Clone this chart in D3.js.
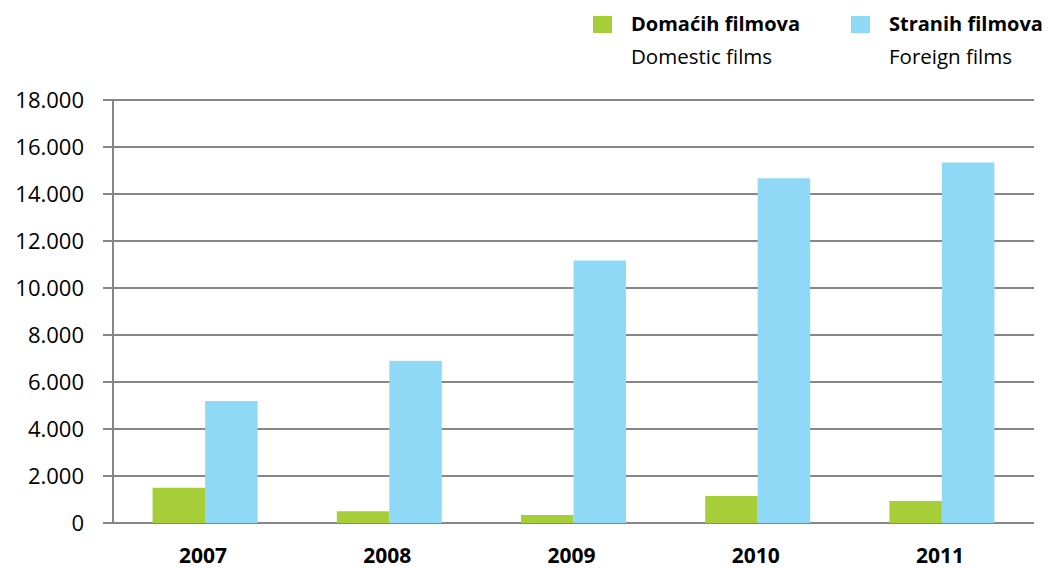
<!DOCTYPE html>
<html>
<head>
<meta charset="utf-8">
<script src="https://cdn.jsdelivr.net/npm/d3@7"></script>
<style>
  body { margin: 0; background: #fff; }
  text { font-family: "Open Sans", sans-serif; fill: #000; }
</style>
</head>
<body>
<div id="chart"></div>
<script>
// data
let years = ["2007", "2008", "2009", "2010", "2011"];
let domestic = [1500, 500, 340, 1150, 940];
let foreign = [5190, 6900, 11170, 14670, 15340];
let yTicks = [0, 2000, 4000, 6000, 8000, 10000, 12000, 14000, 16000, 18000];
let seriesNames = ["Domaćih filmova", "Stranih filmova"];
let seriesSub = ["Domestic films", "Foreign films"];
let colors = ["#a6ce39", "#8fd9f7"];

var width = 1057, height = 569;
var margin = {top: 100, left: 113, right: 23, bottom: 46};

var svg = d3.select("#chart")
  .append("svg")
  .attr("width", width)
  .attr("height", height);

var x = d3.scaleBand()
  .domain(years)
  .range([margin.left, width - margin.right])
  .padding(0);

var y = d3.scaleLinear()
  .domain([0, 18000])
  .range([height - margin.bottom, margin.top]);

var fmt = d => d === 0 ? "0" : d3.format(",")(d).replace(/,/g, ".");

// gridlines incl. the small tick stubs left of the axis
svg.append("g")
  .selectAll("line")
  .data(yTicks)
  .enter()
  .append("line")
  .attr("x1", margin.left - 10)
  .attr("x2", width - margin.right)
  .attr("y1", d => y(d))
  .attr("y2", d => y(d))
  .style("stroke", "#868686")
  .style("stroke-width", 2);

svg.append("g")
  .selectAll("text")
  .data(yTicks)
  .enter()
  .append("text")
  .attr("x", 84)
  .attr("y", d => y(d) + 8)
  .attr("text-anchor", "end")
  .style("font-size", "22px")
  .text(fmt);

// bars
var barW = x.bandwidth() * 0.285;
var groups = svg.append("g")
  .selectAll("g")
  .data(years)
  .enter()
  .append("g");

groups.append("rect")
  .attr("x", d => x(d) + x.bandwidth() / 2 - barW)
  .attr("y", (d, i) => y(domestic[i]))
  .attr("width", barW)
  .attr("height", (d, i) => y(0) - y(domestic[i]))
  .style("fill", colors[0]);

groups.append("rect")
  .attr("x", d => x(d) + x.bandwidth() / 2)
  .attr("y", (d, i) => y(foreign[i]))
  .attr("width", barW)
  .attr("height", (d, i) => y(0) - y(foreign[i]))
  .style("fill", colors[1]);

// vertical axis line
svg.append("line")
  .attr("x1", margin.left)
  .attr("x2", margin.left)
  .attr("y1", y(18000) - 1)
  .attr("y2", y(0) + 1)
  .style("stroke", "#868686")
  .style("stroke-width", 2);

// x labels
svg.append("g")
  .selectAll("text")
  .data(years)
  .enter()
  .append("text")
  .attr("x", d => x(d) + x.bandwidth() / 2 - 2)
  .attr("y", 563)
  .attr("text-anchor", "middle")
  .style("font-size", "21px")
  .style("font-weight", "bold")
  .text(d => d);

// legend
var legendX = [593, 851];
var legend = svg.append("g")
  .selectAll("g")
  .data(seriesNames)
  .enter()
  .append("g")
  .attr("transform", (d, i) => "translate(" + legendX[i] + ",0)");

legend.append("rect")
  .attr("x", 0)
  .attr("y", 16)
  .attr("width", 19)
  .attr("height", 17)
  .style("fill", (d, i) => colors[i]);

legend.append("text")
  .attr("x", 38)
  .attr("y", 31)
  .style("font-size", "20px")
  .style("font-weight", "bold")
  .text(d => d);

legend.append("text")
  .attr("x", 38)
  .attr("y", 64)
  .style("font-size", "20.5px")
  .text((d, i) => seriesSub[i]);
</script>
</body>
</html>
